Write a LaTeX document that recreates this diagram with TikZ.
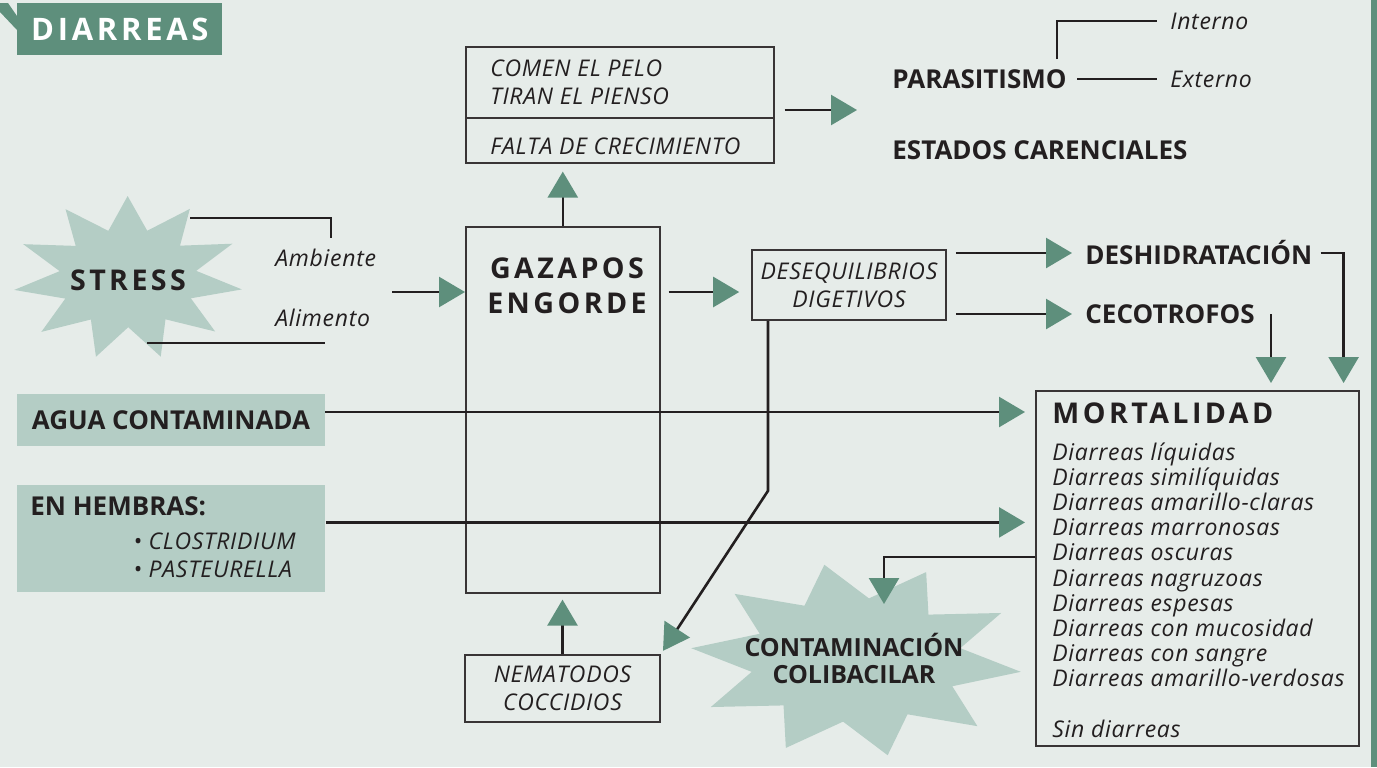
\documentclass[tikz,border=0pt]{standalone}
\usepackage{fontspec}
\setmainfont{Open Sans}
\newfontfamily\spacedsf[LetterSpace=12]{Open Sans}
\newfontfamily\bodysf[LetterSpace=3]{Open Sans}
\usetikzlibrary{arrows.meta,positioning,calc}
\definecolor{paper}{HTML}{E6ECE9}
\definecolor{darkgreen}{HTML}{5E8F7C}
\definecolor{palegreen}{HTML}{B4CDC5}
\definecolor{ink}{HTML}{231F20}

\begin{document}
\begin{tikzpicture}[
  x=0.5pt,y=-0.5pt,
  flow/.style={line width=1.3pt,draw=ink,-{Triangle[length=13pt,width=15pt,color=darkgreen]}},
  link/.style={line width=1.3pt,draw=ink},
  box/.style={draw=ink!90,line width=0.8pt,inner sep=0pt},
  tag/.style={fill=palegreen,inner sep=0pt},
  body/.style={font=\bodysf\fontsize{11.5}{14.2}\selectfont\itshape,text=ink,inner sep=0pt},
  head/.style={font=\fontsize{13}{16}\selectfont\bfseries,text=ink,inner sep=0pt},
  wide/.style={font=\spacedsf\fontsize{14.3}{17.5}\selectfont\bfseries,text=ink,inner sep=0pt}
]
  \fill[paper] (0,0) rectangle (1377,767);
  \useasboundingbox (0,0) rectangle (1377,767);
  \fill[darkgreen] (1371,0) rectangle (1377,767);
  \fill[darkgreen] (0,3) -- (8,3) -- (17,16) -- (17,30) -- (0,12) -- cycle;

  % title
  \node[fill=darkgreen,minimum width=102.5pt,minimum height=26pt,inner sep=0pt,anchor=north west] (title) at (17,3) {};
  \node[wide,text=white,font=\spacedsf\fontsize{15.5}{18}\selectfont\bfseries] at (title) {DIARREAS};

  % stars
  \fill[palegreen] plot[samples at={0,...,21},variable=\k]
    ({128+115*(mod(\k,2)==0 ? 1 : 0.6)*cos(\k*360/22+8)},{278+82*(mod(\k,2)==0 ? 1 : 0.6)*sin(\k*360/22+8)}) -- cycle;
  \fill[palegreen] plot[samples at={0,...,19},variable=\k]
    ({856+166*(mod(\k,2)==0 ? 1 : 0.64)*cos(\k*18+187)},{660+97*(mod(\k,2)==0 ? 1 : 0.64)*sin(\k*18+187)}) -- cycle;

  % stress
  \node[wide] (stress) at (128,280) {STRESS};
  \node[body,anchor=west] (amb) at (275,258) {Ambiente};
  \node[body,anchor=west] (ali) at (275,318) {Alimento};
  \draw[link] (190,218) -| (331,238);
  \draw[link] (147,343) -- (325,343);
  \coordinate (sa) at (392,292);

  % central boxes
  \node[box,minimum width=97pt,minimum height=183pt,anchor=north west] (gaz) at (465,226) {};
  \node[wide,align=center] (gaztxt) at (567,286) {GAZAPOS\\ENGORDE};
  \node[box,minimum width=154pt,minimum height=58pt,anchor=north west] (comen) at (465,46) {};
  \draw[box] ([yshift=-36pt]comen.north west) -- ([yshift=-36pt]comen.north east);
  \node[body,anchor=west,align=left] (pelo) at (490,82) {COMEN EL PELO\\TIRAN EL PIENSO};
  \node[body,anchor=west] (falta) at (490,146) {FALTA DE CRECIMIENTO};
  \node[box,body,align=center,minimum width=97.5pt,minimum height=33.5pt] (nema) at (562.5,688.5) {NEMATODOS\\COCCIDIOS};
  \node[box,body,align=center,minimum width=97pt,minimum height=35pt] (deseq) at (849,285) {DESEQUILIBRIOS\\DIGETIVOS};

  % upper right
  \coordinate (grp) at (857,110);
  \node[head,anchor=west] (para) at (892,79) {PARASITISMO};
  \node[head,anchor=west] (carenc) at (892,150) {ESTADOS CARENCIALES};
  \node[body,anchor=west] (int) at (1170,21) {Interno};
  \node[body,anchor=west] (ext) at (1170,79) {Externo};
  \draw[link] ([xshift=5pt]para.east) -- ([xshift=-6.5pt]ext.west);
  \draw[link] ([xshift=-5pt,yshift=5pt]para.north east) |- ([xshift=-6.5pt]int.west);

  \node[head,anchor=west] (desh) at (1085,253) {DESHIDRATACIÓN};
  \node[head,anchor=west] (ceco) at (1085,314) {CECOTROFOS};

  % mortalidad
  \node[box,minimum width=161.5pt,minimum height=177.5pt,anchor=north west] (mort) at (1035,390) {};
  \node[wide,anchor=west] (morttit) at (1052,413) {MORTALIDAD};
  \foreach \txt [count=\i] in {Diarreas líquidas,Diarreas similíquidas,Diarreas amarillo-claras,
      Diarreas marronosas,Diarreas oscuras,Diarreas nagruzoas,Diarreas espesas,
      Diarreas con mucosidad,Diarreas con sangre,Diarreas amarillo-verdosas}
    \node[body,anchor=base west] (d\i) at (1052,{460+(\i-1)*25.2}) {\txt};
  \node[body,anchor=base west] (sin) at (1052,737) {Sin diarreas};

  % left boxes
  \node[tag,head,minimum width=154pt,minimum height=26pt] (agua) at (171,420) {AGUA CONTAMINADA};
  \node[tag,minimum width=154pt,minimum height=53.5pt,anchor=north west] (hem) at (17,485) {};
  \node[head,anchor=west] (hemtxt) at (30,506) {EN HEMBRAS:};
  \node[body,anchor=west,align=left] (bact) at (133,555.5) {• CLOSTRIDIUM\\• PASTEURELLA};

  % contaminacion
  \node[head,align=center,font=\fontsize{12.5}{13.5}\selectfont\bfseries] (conta) at (854,658) {CONTAMINACIÓN\\COLIBACILAR};
  \coordinate (ctip) at (884,604);

  % connectors
  \draw[flow] (sa) -- (sa -| gaz.west);
  \draw[flow,shorten >=4pt] (gaz.north) -- (gaz.north |- comen.south);
  \draw[flow,shorten >=3pt] (nema.north) -- (nema.north |- gaz.south);
  \draw[flow] ([xshift=5pt]comen.east |- grp) -- (grp);
  \draw[flow,shorten >=6pt] ([xshift=4pt]gaz.east |- sa) -- (deseq.west |- sa);
  \draw[flow,shorten >=6.5pt] ([xshift=4.5pt]deseq.east |- desh.west) -- (desh.west);
  \draw[flow,shorten >=6.5pt] ([xshift=4.5pt]deseq.east |- ceco.west) -- (ceco.west);
  \draw[flow,shorten >=3.5pt] ([xshift=4pt]desh.east) -| ([xshift=-8pt]mort.north east);
  \coordinate (cx) at ([xshift=118pt]mort.north west);
  \draw[flow,shorten >=3.5pt] (ceco.east -| cx) -- (cx);
  \draw[flow,shorten >=5pt] ([yshift=4pt]agua.east) -- ([yshift=4pt]agua.east -| mort.west);
  \draw[flow,shorten >=5pt] ([yshift=8.25pt]hem.east) -- ([yshift=8.25pt]hem.east -| mort.west);
  \draw[flow] ([yshift=5.75pt]mort.west) -| (ctip);
  \draw[flow,shorten >=2pt] ([xshift=-40.5pt]deseq.south) -- ++(0,170) -- (nema.north east);
\end{tikzpicture}
\end{document}
